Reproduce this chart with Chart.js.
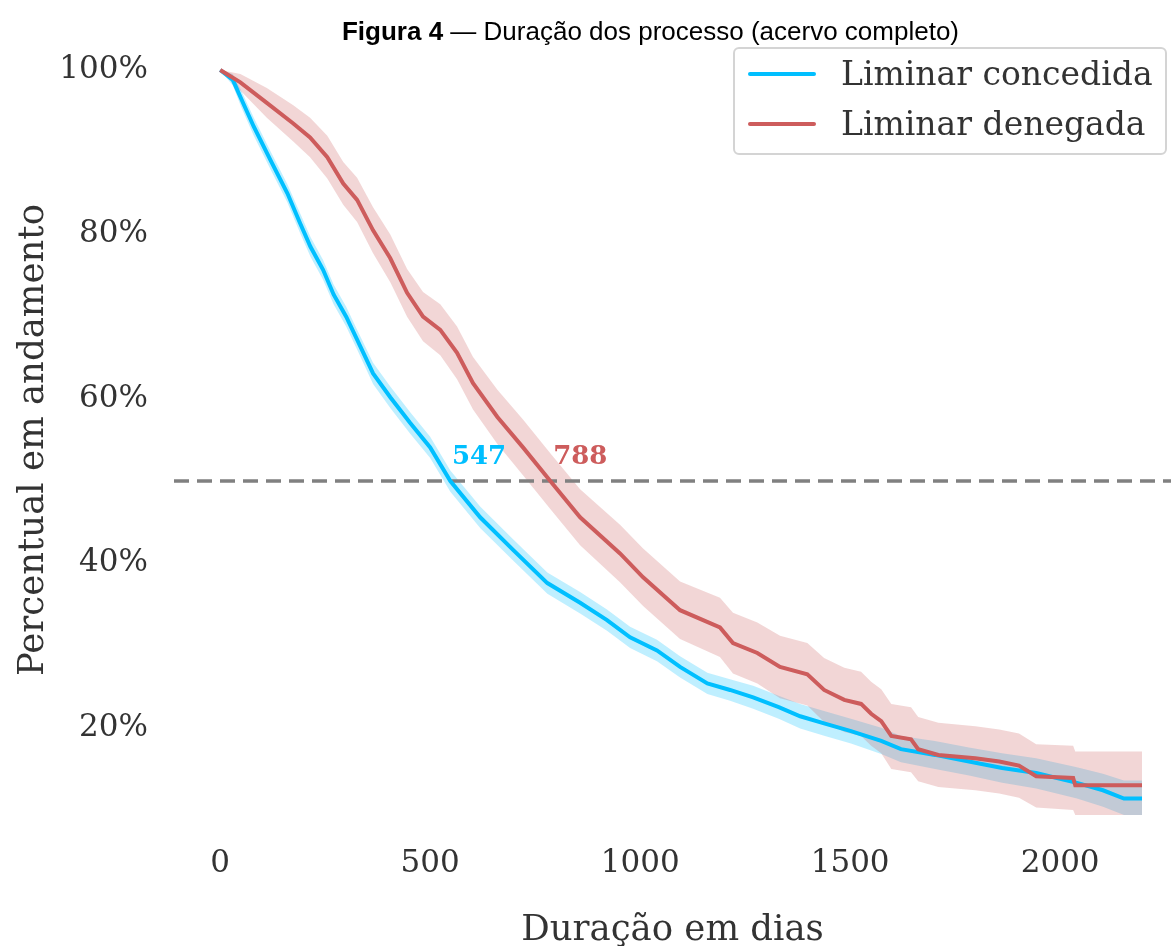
<!DOCTYPE html>
<html>
<head>
<meta charset="utf-8">
<script src="https://cdn.jsdelivr.net/npm/chart.js@4/dist/chart.umd.min.js"></script>
<style>
  html, body { margin: 0; padding: 0; background: #fff; overflow: hidden; }
  #wrap { position: relative; width: 1171px; height: 946px; overflow: hidden; }
  #chart { position: absolute; left: 0; top: 0; }
  #title {
    position: absolute; left: 65px; top: 16px; width: 1171px; text-align: center;
    font-family: "Liberation Sans", Arial, sans-serif; font-size: 26px; color: #000;
  }
  #legend {
    position: absolute; left: 733px; top: 47px; width: 430px; height: 104px;
    border: 2px solid #d4d4d4; border-radius: 6px; background: rgba(255,255,255,0.85);
    font-family: "DejaVu Serif", serif; font-size: 33px; color: #333;
  }
  .item { position: absolute; left: 0; height: 40px; line-height: 40px; white-space: nowrap; }
  .swatch { position: absolute; left: 13px; top: 18px; width: 68px; height: 4px; border-radius: 2px; }
  .label { position: absolute; left: 106px; top: 0; }
</style>
</head>
<body>
<div id="wrap">
  <canvas id="chart" width="1171" height="946"></canvas>
  <div id="title"><b>Figura 4</b> — Duração dos processo (acervo completo)</div>
  <div id="legend">
    <div class="item" style="top:5px"><span class="swatch" style="background:#00bfff"></span><span class="label">Liminar concedida</span></div>
    <div class="item" style="top:55px"><span class="swatch" style="background:#cd5c5c"></span><span class="label">Liminar denegada</span></div>
  </div>
</div>
<script>
// Liminar concedida (Kaplan-Meier estimate and confidence band)
const concDays  = [0, 30, 50, 80, 120, 160, 190, 215, 245, 270, 300, 326, 364, 405, 452, 500, 548, 619, 698, 779, 857, 921, 976, 1040, 1095, 1160, 1214, 1269, 1330, 1381, 1440, 1502, 1574, 1621, 1702, 1783, 1862, 1943, 2040, 2102, 2152, 2195];
const concSurv  = [1.0, 0.988, 0.965, 0.931, 0.89, 0.85, 0.814, 0.785, 0.757, 0.727, 0.70, 0.672, 0.631, 0.602, 0.571, 0.541, 0.50, 0.456, 0.416, 0.376, 0.352, 0.331, 0.31, 0.294, 0.274, 0.254, 0.246, 0.237, 0.225, 0.214, 0.205, 0.196, 0.184, 0.174, 0.167, 0.159, 0.151, 0.145, 0.133, 0.124, 0.114, 0.114];
const concUpper = [1.0, 0.995, 0.975, 0.942, 0.901, 0.861, 0.826, 0.797, 0.769, 0.739, 0.712, 0.684, 0.644, 0.615, 0.584, 0.554, 0.513, 0.469, 0.429, 0.389, 0.365, 0.344, 0.323, 0.307, 0.287, 0.267, 0.259, 0.251, 0.239, 0.229, 0.22, 0.211, 0.2, 0.19, 0.184, 0.176, 0.169, 0.163, 0.152, 0.144, 0.136, 0.136];
const concLower = [1.0, 0.981, 0.955, 0.92, 0.879, 0.839, 0.802, 0.773, 0.745, 0.715, 0.688, 0.66, 0.618, 0.589, 0.558, 0.528, 0.487, 0.443, 0.403, 0.363, 0.339, 0.318, 0.297, 0.281, 0.261, 0.241, 0.233, 0.223, 0.211, 0.199, 0.19, 0.181, 0.168, 0.158, 0.15, 0.142, 0.133, 0.126, 0.114, 0.104, 0.094, 0.094];

// Liminar denegada
const denDays  = [0, 48, 111, 174, 214, 255, 293, 326, 364, 405, 445, 483, 524, 564, 602, 660, 721, 786, 857, 952, 1007, 1095, 1190, 1221, 1279, 1333, 1398, 1438, 1486, 1526, 1550, 1574, 1598, 1645, 1662, 1710, 1798, 1855, 1902, 1943, 2031, 2036, 2195];
const denSurv  = [1.0, 0.985, 0.96, 0.935, 0.918, 0.894, 0.862, 0.842, 0.805, 0.771, 0.729, 0.70, 0.684, 0.656, 0.619, 0.578, 0.541, 0.50, 0.456, 0.412, 0.383, 0.343, 0.322, 0.303, 0.291, 0.274, 0.265, 0.246, 0.234, 0.229, 0.217, 0.208, 0.19, 0.186, 0.174, 0.167, 0.163, 0.159, 0.154, 0.141, 0.139, 0.13, 0.13];
const denUpper = [1.0, 0.995, 0.978, 0.957, 0.942, 0.92, 0.888, 0.869, 0.833, 0.8, 0.758, 0.73, 0.715, 0.688, 0.651, 0.611, 0.575, 0.534, 0.49, 0.447, 0.418, 0.378, 0.358, 0.34, 0.328, 0.312, 0.303, 0.285, 0.273, 0.268, 0.256, 0.247, 0.229, 0.225, 0.213, 0.206, 0.202, 0.198, 0.193, 0.18, 0.178, 0.171, 0.171];
const denLower = [1.0, 0.975, 0.942, 0.913, 0.894, 0.868, 0.836, 0.815, 0.777, 0.742, 0.70, 0.67, 0.653, 0.624, 0.587, 0.545, 0.507, 0.466, 0.422, 0.377, 0.348, 0.308, 0.286, 0.266, 0.254, 0.236, 0.227, 0.207, 0.195, 0.19, 0.178, 0.169, 0.15, 0.146, 0.135, 0.128, 0.124, 0.12, 0.115, 0.103, 0.1, 0.094, 0.094];

// median reference line and labels
const medianLevel = 0.5;
const medianDays = [547, 788];
const medianColors = ['#00bfff', '#cd5c5c'];

const xTicks = [0, 500, 1000, 1500, 2000];
const yTicks = [0.2, 0.4, 0.6, 0.8, 1.0];
const xMin = -110, xMax = 2264;
const yMin = 0.055, yMax = 1.045;

const BLUE = '#00bfff';
const RED = '#cd5c5c';
const TICK_COLOR = '#333333';

function pts(xs, ys) {
    return xs.map((x, i) => ({ x: x, y: ys[i] }));
}

function band(xs, ys, color, fill, order) {
    return {
        data: pts(xs, ys),
        borderWidth: 0,
        pointRadius: 0,
        backgroundColor: color,
        fill: fill,
        tension: 0,
        order: order
    };
}

// "547" / "788" next to where each curve crosses 50%
const medianLabels = {
    id: 'medianLabels',
    afterDatasetsDraw(chart) {
        const ctx = chart.ctx;
        const xs = chart.scales.x, ys = chart.scales.y;
        ctx.save();
        ctx.font = 'bold 26px "DejaVu Serif", serif';
        ctx.textAlign = 'left';
        ctx.textBaseline = 'alphabetic';
        medianDays.forEach((d, i) => {
            ctx.fillStyle = medianColors[i];
            ctx.fillText(String(d), xs.getPixelForValue(d) + 2, ys.getPixelForValue(medianLevel) - 17);
        });
        ctx.restore();
    }
};

new Chart(document.getElementById('chart'), {
    type: 'line',
    data: {
        datasets: [
            band(concDays, concUpper, 'rgba(0,191,255,0.25)', '+1', 6),
            band(concDays, concLower, 'rgba(0,191,255,0.25)', false, 6),
            band(denDays, denUpper, 'rgba(205,92,92,0.25)', '+1', 5),
            band(denDays, denLower, 'rgba(205,92,92,0.25)', false, 5),
            {
                data: [{ x: xMin, y: medianLevel }, { x: xMax, y: medianLevel }],
                borderColor: '#808080',
                borderWidth: 3.5,
                borderDash: [15, 8],
                pointRadius: 0,
                fill: false,
                order: 4
            },
            {
                label: 'Liminar concedida',
                data: pts(concDays, concSurv),
                borderColor: BLUE,
                borderWidth: 4,
                pointRadius: 0,
                tension: 0,
                fill: false,
                order: 2
            },
            {
                label: 'Liminar denegada',
                data: pts(denDays, denSurv),
                borderColor: RED,
                borderWidth: 4,
                pointRadius: 0,
                tension: 0,
                fill: false,
                order: 1
            }
        ]
    },
    options: {
        responsive: false,
        animation: false,
        layout: { padding: { top: 33, right: 0, left: 0, bottom: 0 } },
        plugins: {
            legend: { display: false },
            tooltip: { enabled: false },
            title: { display: false }
        },
        scales: {
            x: {
                type: 'linear',
                min: xMin,
                max: xMax,
                grid: { display: false, drawTicks: false },
                border: { display: false },
                afterBuildTicks: s => { s.ticks = xTicks.map(v => ({ value: v })); },
                afterFit: s => { s.height = 99; },
                ticks: {
                    color: TICK_COLOR,
                    padding: -2,
                    maxRotation: 0,
                    font: { family: 'DejaVu Serif', size: 31 },
                    callback: v => String(v)
                },
                title: {
                    display: true,
                    text: 'Duração em dias',
                    color: TICK_COLOR,
                    padding: { top: 0, bottom: -6 },
                    font: { family: 'DejaVu Serif', size: 35.5 }
                }
            },
            y: {
                min: yMin,
                max: yMax,
                // tick length (not padding) keeps labels off the axis without padding the top
                grid: { display: false, drawTicks: true, tickLength: 26 },
                border: { display: false },
                afterBuildTicks: s => { s.ticks = yTicks.map(v => ({ value: v })); },
                afterFit: s => { s.width = 174; },
                ticks: {
                    color: TICK_COLOR,
                    padding: 0,
                    font: { family: 'DejaVu Serif', size: 31 },
                    callback: v => Math.round(v * 100) + '%'
                },
                title: {
                    display: true,
                    text: 'Percentual em andamento',
                    color: TICK_COLOR,
                    padding: { top: 12, bottom: 0 },
                    font: { family: 'DejaVu Serif', size: 35.5 }
                }
            }
        }
    },
    plugins: [medianLabels]
});
</script>
</body>
</html>
